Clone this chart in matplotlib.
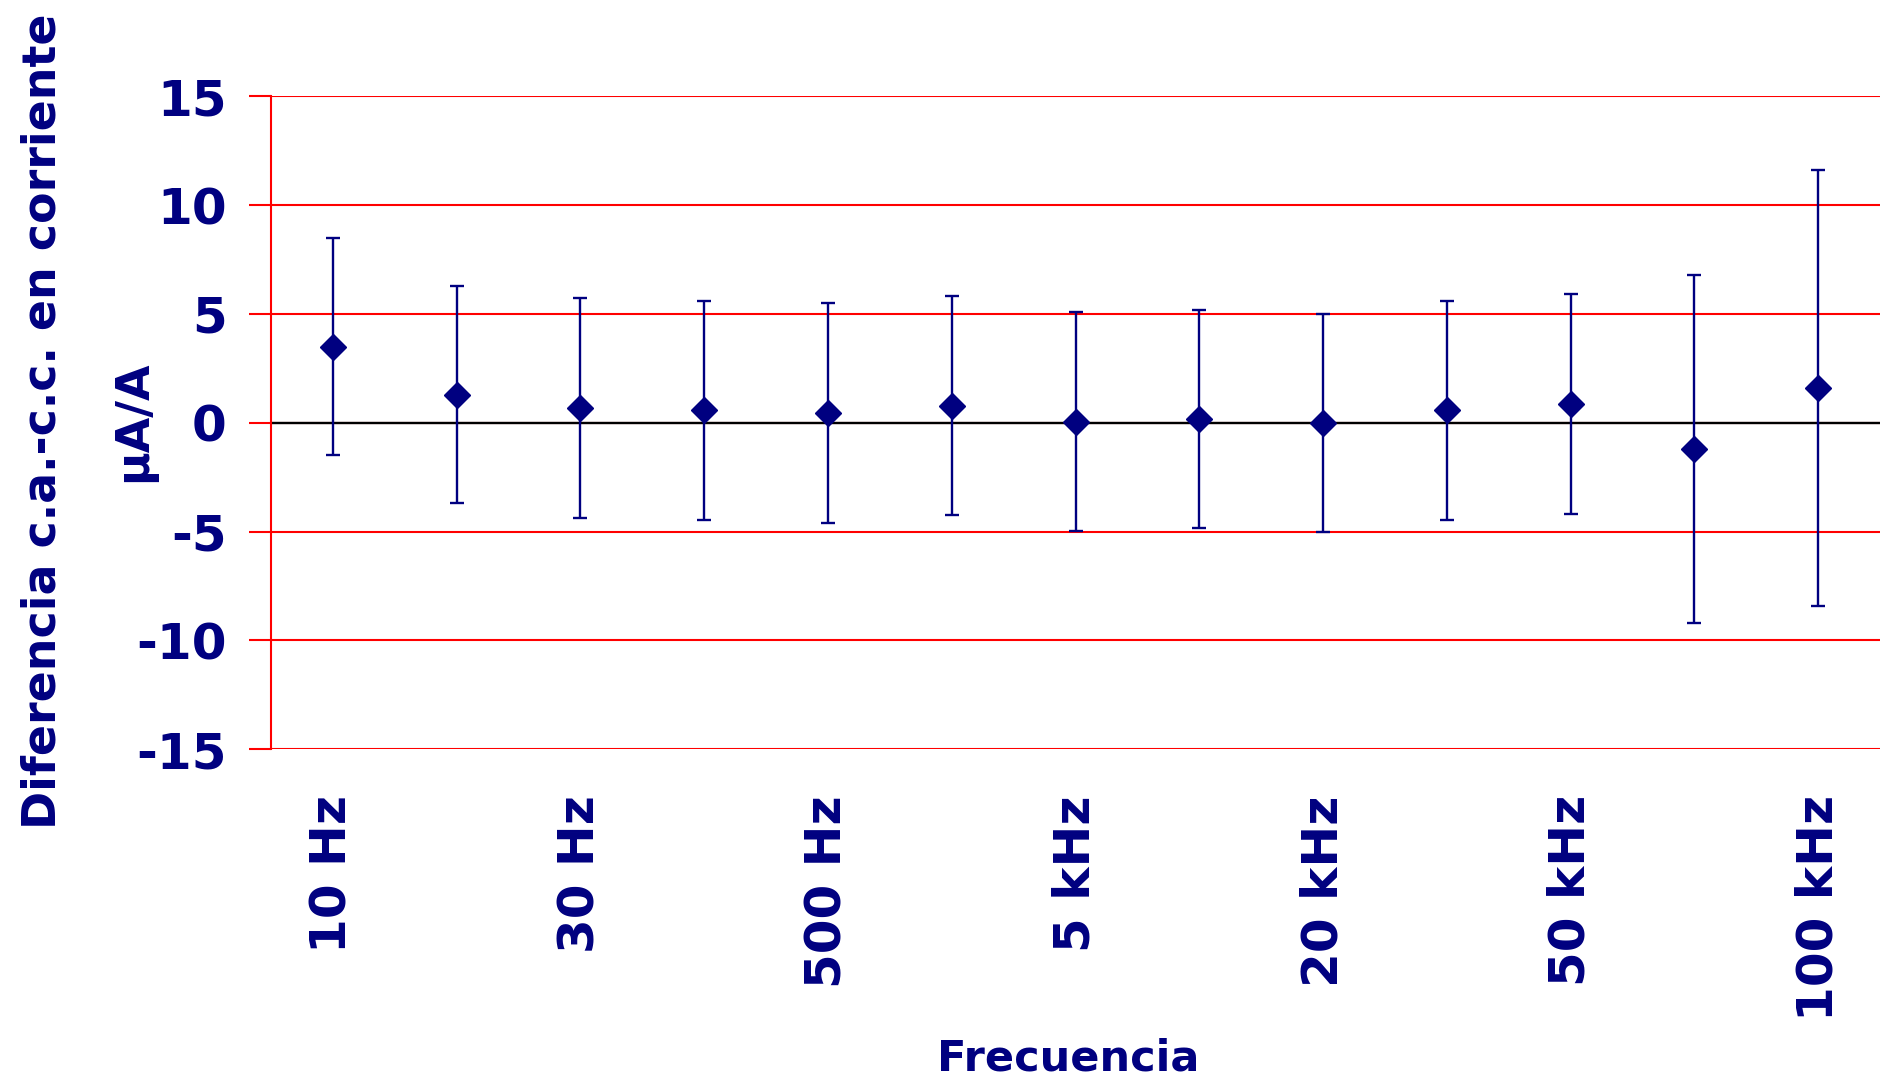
import matplotlib.pyplot as plt
import numpy as np

plt.rcParams["axes.unicode_minus"] = False

# frecuencias (solo se rotula una de cada dos, como en el original)
etiquetas = ["10 Hz", "", "30 Hz", "", "500 Hz", "", "5 kHz", "",
             "20 kHz", "", "50 kHz", "", "100 kHz"]
diferencia = [3.5, 1.3, 0.68, 0.57, 0.47, 0.78, 0.06, 0.18, 0.0, 0.57, 0.85, -1.2, 1.6]
incertidumbre = [5.0, 5.0, 5.05, 5.05, 5.05, 5.03, 5.04, 5.0, 5.0, 5.05, 5.05, 8.0, 10.0]

azul = "#000080"
rojo = "#ff0000"

fig = plt.figure(figsize=(18.89, 10.85), dpi=100)
ax = fig.add_axes([0.1435, 0.3094, 0.9952 - 0.1435, 0.9112 - 0.3094])

x = np.arange(len(etiquetas))
ax.errorbar(x, diferencia, yerr=incertidumbre, fmt="D", color=azul,
            markersize=13, elinewidth=1.7, capsize=5, capthick=1.7, zorder=3)

ax.set_xlim(-0.5, len(etiquetas) - 0.5)
ax.set_ylim(-15, 15)
ax.set_yticks(np.arange(-15, 16, 5))
ax.yaxis.grid(True, color=rojo, linewidth=1.5)
ax.set_axisbelow(True)
ax.axhline(0, color="black", linewidth=1.7, zorder=2)

for s in ["top", "right", "bottom"]:
    ax.spines[s].set_visible(False)
ax.spines["left"].set_color(rojo)
ax.spines["left"].set_linewidth(1.5)

ax.set_xticks(x)
ax.set_xticklabels(etiquetas, rotation=90, fontweight="bold")
for t in ax.get_yticklabels():
    t.set_fontweight("bold")
ax.tick_params(axis="x", length=0, pad=33, labelsize=36, labelcolor=azul)
ax.tick_params(axis="y", length=16, width=1.5, color=rojo, pad=16,
               labelsize=36, labelcolor=azul)

fig.text(0.5655, 0.024, "Frecuencia", fontsize=31, color=azul,
         fontweight="bold", ha="center", va="center")
fig.text(0.023, 0.6114, "Diferencia c.a.-c.c. en corriente", rotation=90,
         fontsize=33, color=azul, fontweight="bold", ha="center", va="center")
fig.text(0.071, 0.6114, "µA/A", rotation=90, fontsize=33, color=azul,
         fontweight="bold", ha="center", va="center")

fig.savefig("out.png", dpi=100)
